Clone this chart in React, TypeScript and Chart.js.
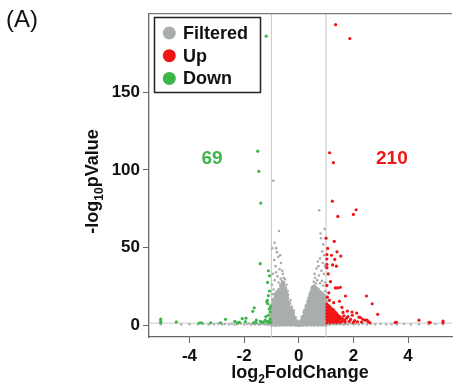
import { useEffect, useRef } from 'react';
import { Chart, registerables } from 'chart.js';

Chart.register(...registerables);

const FONT = '"Liberation Sans", Arial, Helvetica, sans-serif';

// ---- axis / label data ----
const xTicks = [-4, -2, 0, 2, 4];
const yTicks = [0, 50, 100, 150];
const xRange = [-5.48, 5.61];
const yRange = [-7.6, 200.8];
const fcCutoffs = [-1, 1];
const pCutoff = 1.3;
const legendLabels = ['Filtered', 'Up', 'Down'];
const countTexts = ['69', '210'];
const countPos: [number, number][] = [[-3.17, 107.2], [3.41, 107.2]];
const panelLabel = '(A)';

// ---- dense non-significant cloud: [log2FC, list of -log10 p] per column ----
const filteredDenseColumns: [number, number[]][] = [
  [-0.99, [0.4, 2.9, 5.2, 7.8, 10.1, 12.5]],
  [-0.92, [1.4, 3.9, 6.4, 8.8, 11.3, 13.7, 16.2]],
  [-0.85, [0.3, 2.7, 5.1, 7.6, 10.2, 12.6, 15.1, 17.5, 19.8]],
  [-0.78, [1.5, 4.0, 6.3, 8.9, 11.4, 13.8, 16.3, 18.7, 21.2]],
  [-0.71, [0.4, 2.8, 5.3, 7.7, 10.2, 12.6, 15.0, 17.6, 20.0, 22.5]],
  [-0.64, [1.3, 3.8, 6.2, 8.7, 11.1, 13.6, 16.0, 18.5, 20.9, 23.4, 25.6]],
  [-0.57, [0.5, 2.9, 5.4, 7.8, 10.3, 12.7, 15.2, 17.6, 20.1, 22.5, 25.0, 27.2]],
  [-0.50, [1.4, 3.9, 6.3, 8.8, 11.2, 13.7, 16.1, 18.6, 21.0, 23.4]],
  [-0.43, [0.4, 2.8, 5.3, 7.7, 10.2, 12.6, 15.1, 17.4, 19.6]],
  [-0.36, [1.3, 3.8, 6.2, 8.7, 11.1, 13.9]],
  [-0.29, [0.4, 2.8, 5.3, 7.7, 10.4]],
  [-0.22, [1.2, 3.6, 6.1, 8.0]],
  [-0.15, [0.4, 2.7, 4.8]],
  [-0.08, [0.8, 2.4]],
  [-0.03, [0.3]],
  [0.03, [0.3]],
  [0.08, [0.7, 2.3]],
  [0.15, [0.4, 2.8, 5.0]],
  [0.22, [1.3, 3.7, 6.2, 8.3]],
  [0.29, [0.4, 2.9, 5.3, 7.8, 10.3, 11.8]],
  [0.36, [1.4, 3.8, 6.3, 8.7, 11.2, 13.6, 15.4]],
  [0.43, [0.4, 2.9, 5.3, 7.8, 10.2, 12.7, 15.1, 17.6, 19.5]],
  [0.50, [1.3, 3.8, 6.2, 8.7, 11.1, 13.6, 16.0, 18.5, 20.9, 22.8]],
  [0.57, [0.5, 2.9, 5.4, 7.8, 10.3, 12.7, 15.2, 17.6, 20.1, 22.5, 24.8]],
  [0.64, [1.4, 3.8, 6.3, 8.7, 11.2, 13.6, 16.1, 18.5, 21.0, 23.6]],
  [0.71, [0.4, 2.8, 5.3, 7.7, 10.2, 12.6, 15.1, 17.5, 20.0, 22.4]],
  [0.78, [1.3, 3.8, 6.2, 8.7, 11.1, 13.6, 16.0, 18.5, 21.0]],
  [0.85, [0.4, 2.9, 5.3, 7.8, 10.2, 12.7, 15.1, 17.6, 20.2]],
  [0.92, [1.4, 3.8, 6.3, 8.7, 11.2, 13.6, 16.1, 18.7]],
  [0.98, [0.5, 2.9, 5.4, 7.8, 10.3, 12.7, 15.2, 17.8]],
];

// ---- scattered non-significant points ----
const filteredScatter: [number, number][] = [
  [-0.93, 93], [-0.72, 60.6], [-0.97, 49.6], [-0.83, 49.6], [-0.8, 47], [-0.75, 44],
  [-0.9, 42], [-0.65, 40], [-0.85, 38], [-0.7, 36], [-0.6, 35], [-0.95, 33],
  [-0.78, 31.5], [-0.55, 30.5], [-0.66, 30], [-0.88, 29], [-0.5, 29.5], [-0.62, 28.5],
  [-0.74, 27.5], [-0.45, 26], [-0.98, 26], [-0.92, 23], [-0.4, 22], [-0.96, 20],
  [-0.3, 16], [-0.25, 12], [-0.18, 9.5], [-0.83, 34], [-0.68, 45], [-0.58, 33], [-0.88, 53],
  [0.75, 74], [0.8, 59], [0.95, 62], [0.82, 56], [0.9, 52], [0.86, 47.5], [0.93, 45],
  [0.78, 43], [0.7, 41], [0.88, 40], [0.96, 38], [0.65, 36.5], [0.83, 35], [0.92, 33],
  [0.74, 32], [0.6, 30.5], [0.68, 29], [0.85, 28.5], [0.55, 28], [0.97, 27.5], [0.78, 27],
  [0.63, 27], [0.9, 25.5], [0.48, 24.5], [0.42, 21], [0.35, 17.5], [0.27, 13], [0.2, 9.5],
  [0.97, 22], [0.72, 38], [0.58, 33],
];

const filteredBaseline: [number, number][] = [
  [-5.05, 0.5], [-5.05, 1.0], [-4.3, 0.4], [-4.0, 0.6], [-3.7, 0.5], [-3.5, 0.8], [-3.3, 0.4],
  [-3.1, 0.6], [-2.95, 0.9], [-2.8, 0.4], [-2.7, 0.7], [-2.55, 0.5], [-2.45, 1.0], [-2.35, 0.3],
  [-2.25, 0.6], [-2.12, 0.9], [-2.0, 0.4], [-1.9, 0.7], [-1.82, 1.1], [-1.75, 0.4], [-1.68, 0.8],
  [-1.6, 0.5], [-1.52, 1.0], [-1.45, 0.3], [-1.38, 0.7], [-1.32, 1.1], [-1.25, 0.5], [-1.2, 0.9],
  [-1.15, 0.3], [-1.1, 0.7], [-1.05, 1.1], [-1.03, 0.4],
  [1.03, 0.5], [1.08, 1.0], [1.12, 0.3], [1.18, 0.8], [1.24, 0.5], [1.3, 1.1], [1.36, 0.4],
  [1.42, 0.8], [1.5, 0.5], [1.58, 1.0], [1.65, 0.3], [1.72, 0.7], [1.8, 0.5], [1.9, 1.0],
  [2.0, 0.4], [2.1, 0.8], [2.2, 0.5], [2.35, 0.9], [2.5, 0.4], [2.65, 0.7], [2.8, 0.5],
  [3.0, 0.8], [3.2, 0.4], [3.4, 0.6], [3.6, 0.5], [3.85, 0.8], [4.1, 0.4], [4.4, 0.6],
  [4.75, 0.5], [5.0, 0.7], [5.28, 0.5], [5.28, 1.0],
];

// ---- up-regulated (red) ----
const upPoints: [number, number][] = [
  [1.35, 193.4], [1.87, 184.5], [1.13, 111], [1.27, 104.6], [1.23, 79.8], [1.43, 70],
  [2.0, 71.3], [2.1, 74.3], [1.0, 56], [1.3, 54], [1.06, 49.4], [1.4, 47.2], [1.2, 45],
  [1.54, 44.5], [1.03, 42.6], [1.32, 42.3], [1.24, 38.8], [1.38, 38], [1.03, 39.2], [1.03, 37],
  [1.03, 45.5], [1.08, 33], [1.16, 28], [1.03, 25.6], [1.34, 24], [1.42, 24], [1.52, 24.4],
  [1.1, 20.8], [1.71, 18.8], [2.48, 18.8], [1.49, 15.4], [2.69, 13.8], [1.78, 9.1], [2.12, 7.8],
  [2.89, 7], [1.96, 6.4], [2.26, 4.9], [2.44, 3.2], [2.5, 3.2], [3.53, 1.7], [3.58, 1.9],
  [4.4, 3.2], [4.77, 1.9], [4.81, 1.7], [5.28, 2.7], [5.28, 1.7],
  [1.7, 2.0], [1.75, 4.5], [1.85, 2.5], [1.9, 3.7], [2.0, 1.8], [2.05, 3.0], [2.15, 2.2],
  [2.3, 2.0], [2.35, 3.8], [2.55, 2.1], [2.6, 1.7], [1.65, 6.0], [1.8, 5.5], [1.95, 8.5],
  [1.68, 3.2], [2.2, 5.2], [1.62, 8.2], [1.58, 11.5], [1.28, 14.5], [1.05, 18], [1.12, 16],
  [1.03, 1.6], [1.03, 3.6], [1.03, 5.6], [1.03, 7.6], [1.03, 9.6], [1.03, 11.6], [1.03, 13.6],
  [1.09, 2.6], [1.09, 4.6], [1.09, 6.6], [1.09, 8.6], [1.09, 10.6], [1.09, 12.6],
  [1.15, 1.7], [1.15, 3.7], [1.15, 5.7], [1.15, 7.7], [1.15, 9.7], [1.15, 11.7],
  [1.21, 2.5], [1.21, 4.5], [1.21, 6.5], [1.21, 8.5], [1.21, 10.5],
  [1.27, 1.8], [1.27, 3.8], [1.27, 5.8], [1.27, 7.8], [1.27, 9.8],
  [1.33, 2.6], [1.33, 4.6], [1.33, 6.6], [1.33, 8.6],
  [1.39, 1.7], [1.39, 3.7], [1.39, 5.7], [1.39, 7.4],
  [1.45, 2.5], [1.45, 4.5], [1.45, 6.2],
  [1.52, 1.8], [1.52, 3.8], [1.52, 5.3],
  [1.6, 2.6], [1.6, 4.3],
];

// ---- down-regulated (green) ----
const downPoints: [number, number][] = [
  [-1.19, 186], [-1.5, 112], [-1.46, 99], [-1.39, 78.6], [-1.41, 39.6], [-1.11, 35],
  [-1.07, 31.8], [-1.14, 27.5], [-1.07, 22], [-1.11, 19], [-1.15, 16], [-1.17, 14.9],
  [-1.13, 13.8], [-1.63, 11.2], [-1.68, 8.9], [-1.05, 8.5], [-1.11, 6.4], [-1.93, 4.5],
  [-2.07, 4.2], [-2.68, 3.8], [-1.23, 3.2], [-1.55, 3.2], [-2.34, 2.5], [-1.95, 2.3],
  [-1.17, 2.3], [-1.29, 2.0], [-1.65, 1.7], [-1.58, 1.7], [-2.25, 1.5], [-2.17, 1.8],
  [-2.86, 1.5], [-3.22, 1.5], [-3.56, 1.5], [-3.64, 1.4], [-4.48, 2.1], [-5.05, 4.0],
  [-5.05, 2.6], [-5.05, 1.6], [-1.05, 4], [-1.08, 10.5], [-1.03, 12], [-1.02, 2.0],
  [-1.1, 2.6], [-1.35, 1.9], [-1.4, 2.4], [-1.08, 1.6], [-1.2, 5.5],
];

const GRAY = '#a9adad';
const RED = '#f01414';
const GREEN = '#3db54a';
const legendColors = [GRAY, RED, GREEN];

const toXY = (arr: [number, number][]) => arr.map(([x, y]) => ({ x, y }));

function drawSubText(
  ctx: CanvasRenderingContext2D,
  parts: [string, boolean][],
  cx: number,
  baseline: number,
) {
  const main = `bold 18px ${FONT}`;
  const sub = `bold 12px ${FONT}`;
  let w = 0;
  for (const [t, s] of parts) {
    ctx.font = s ? sub : main;
    w += ctx.measureText(t).width;
  }
  let x = cx - w / 2;
  ctx.textAlign = 'left';
  ctx.textBaseline = 'alphabetic';
  for (const [t, s] of parts) {
    ctx.font = s ? sub : main;
    ctx.fillText(t, x, s ? baseline + 5 : baseline);
    x += ctx.measureText(t).width;
  }
}

const decorPlugin = {
  id: 'decor',
  afterDraw(chart: any) {
    const ctx: CanvasRenderingContext2D = chart.ctx;
    const { left, right, top } = chart.chartArea;
    const xs = chart.scales.x;
    const ys = chart.scales.y;
    ctx.save();
    // top frame line
    ctx.strokeStyle = '#7a7a7a';
    ctx.lineWidth = 1.2;
    ctx.beginPath();
    ctx.moveTo(left, top + 0.5);
    ctx.lineTo(right, top + 0.5);
    ctx.stroke();

    // legend box
    ctx.fillStyle = '#ffffff';
    ctx.fillRect(154.5, 17.5, 106, 75);
    ctx.strokeStyle = '#222';
    ctx.lineWidth = 1.5;
    ctx.strokeRect(154.5, 17.5, 106, 75);
    legendLabels.forEach((lab, i) => {
      const cy = 33 + i * 22.7;
      ctx.fillStyle = legendColors[i];
      ctx.beginPath();
      ctx.arc(169.3, cy, 6.5, 0, Math.PI * 2);
      ctx.fill();
      ctx.fillStyle = '#111';
      ctx.font = `bold 18px ${FONT}`;
      ctx.textAlign = 'left';
      ctx.textBaseline = 'middle';
      ctx.fillText(lab, 183, cy + 1);
    });

    // counts
    ctx.font = `bold 19px ${FONT}`;
    ctx.textAlign = 'center';
    ctx.textBaseline = 'middle';
    countTexts.forEach((t, i) => {
      ctx.fillStyle = i === 0 ? GREEN : RED;
      ctx.fillText(t, xs.getPixelForValue(countPos[i][0]), ys.getPixelForValue(countPos[i][1]));
    });

    // panel label
    ctx.fillStyle = '#111';
    ctx.font = `24px ${FONT}`;
    ctx.textAlign = 'left';
    ctx.textBaseline = 'alphabetic';
    ctx.fillText(panelLabel, 6, 26.5);

    // axis titles
    ctx.fillStyle = '#111';
    drawSubText(ctx, [['log', false], ['2', true], ['FoldChange', false]], 300, 378);
    ctx.translate(98, 181.5);
    ctx.rotate(-Math.PI / 2);
    drawSubText(ctx, [['-log', false], ['10', true], ['pValue', false]], 0, 0);
    ctx.restore();
  },
};

export default function App() {
  const ref = useRef<HTMLCanvasElement | null>(null);
  useEffect(() => {
    if (!ref.current) return;
    const denseXY = filteredDenseColumns.flatMap(([x, ys]) => ys.map((y) => ({ x, y })));
    const lineDs = (data: { x: number; y: number }[]) => ({
      data,
      showLine: true,
      pointRadius: 0,
      borderColor: '#c4c8c8',
      borderWidth: 1,
      order: 10,
    });
    const chart = new Chart(ref.current, {
      type: 'scatter',
      data: {
        datasets: [
          lineDs([{ x: fcCutoffs[0], y: yRange[0] }, { x: fcCutoffs[0], y: yRange[1] }]),
          lineDs([{ x: fcCutoffs[1], y: yRange[0] }, { x: fcCutoffs[1], y: yRange[1] }]),
          lineDs([{ x: xRange[0], y: pCutoff }, { x: xRange[1], y: pCutoff }]),
          {
            data: denseXY,
            pointRadius: 2.3,
            pointBorderWidth: 0,
            backgroundColor: GRAY,
            order: 5,
          },
          {
            data: toXY(filteredScatter),
            pointRadius: 1.3,
            pointBorderWidth: 0,
            backgroundColor: GRAY,
            order: 5,
          },
          {
            data: toXY(filteredBaseline),
            pointRadius: 1.2,
            pointBorderWidth: 0,
            backgroundColor: GRAY,
            order: 5,
          },
          {
            data: toXY(upPoints),
            pointRadius: 1.6,
            pointBorderWidth: 0,
            backgroundColor: RED,
            order: 1,
          },
          {
            data: toXY(downPoints),
            pointRadius: 1.6,
            pointBorderWidth: 0,
            backgroundColor: GREEN,
            order: 1,
          },
        ] as any,
      },
      options: {
        animation: false,
        responsive: false,
        devicePixelRatio: 1,
        events: [],
        layout: { padding: { top: 9, left: 0, right: 0, bottom: 0 } },
        plugins: { legend: { display: false }, tooltip: { enabled: false } },
        scales: {
          x: {
            type: 'linear',
            min: xRange[0],
            max: xRange[1],
            afterBuildTicks: (axis: any) => {
              axis.ticks = xTicks.map((v) => ({ value: v }));
            },
            afterFit: (axis: any) => {
              axis.height = 53;
            },
            grid: { drawOnChartArea: false, drawTicks: true, tickLength: 6, color: '#666' },
            border: { display: true, color: '#666', width: 1.3 },
            ticks: {
              color: '#111',
              font: { family: FONT, size: 17, weight: 'bold' },
              padding: 3,
              maxRotation: 0,
              autoSkip: false,
            },
          },
          y: {
            type: 'linear',
            min: yRange[0],
            max: yRange[1],
            afterBuildTicks: (axis: any) => {
              axis.ticks = yTicks.map((v) => ({ value: v }));
            },
            afterFit: (axis: any) => {
              axis.width = 149;
            },
            grid: { drawOnChartArea: false, drawTicks: true, tickLength: 6, color: '#666' },
            border: { display: true, color: '#666', width: 1.3 },
            ticks: {
              color: '#111',
              font: { family: FONT, size: 17, weight: 'bold' },
              padding: 3,
              autoSkip: false,
            },
          },
        },
      } as any,
      plugins: [decorPlugin],
    });
    return () => chart.destroy();
  }, []);

  return (
    <div style={{ position: 'fixed', left: 0, top: 0, width: 456, height: 390 }}>
      <canvas ref={ref} width={456} height={390} style={{ width: 456, height: 390 }} />
    </div>
  );
}
